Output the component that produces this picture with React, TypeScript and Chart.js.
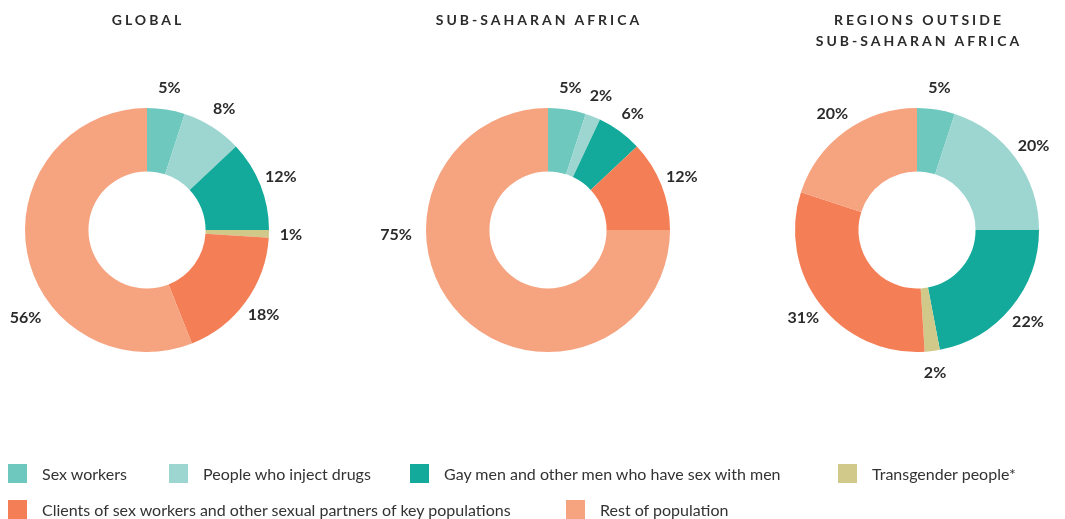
import React, { useEffect, useRef } from "react";
import { Chart, registerables } from "chart.js";

Chart.register(...registerables);

const categories = [
  "Sex workers",
  "People who inject drugs",
  "Gay men and other men who have sex with men",
  "Transgender people*",
  "Clients of sex workers and other sexual partners of key populations",
  "Rest of population",
];
const globalValues = [5, 8, 12, 1, 18, 56];
const ssaValues = [5, 2, 6, 0, 12, 75];
const outsideValues = [5, 20, 22, 2, 31, 20];
const colors = ["#6EC8BE", "#9DD6D0", "#13A99B", "#D0C98A", "#F47E55", "#F6A380"];

const W = 1065;
const H = 519;
const R = 122;
const CY = 230;
const FONT = "Lato, 'Open Sans', sans-serif";

const labelPlugin = {
  id: "sliceLabels",
  afterDatasetsDraw(chart: any, _args: any, opts: any) {
    const ctx = chart.ctx;
    const meta = chart.getDatasetMeta(0);
    const data = chart.data.datasets[0].data;
    const overrides = (opts && opts.angles) || {};
    ctx.save();
    ctx.font = `bold 16px ${FONT}`;
    ctx.fillStyle = "#2b2b2b";
    ctx.textAlign = "center";
    ctx.textBaseline = "middle";
    meta.data.forEach((arc: any, i: number) => {
      const v = data[i];
      if (!v) return;
      const p = arc.getProps(["x", "y", "startAngle", "endAngle", "outerRadius"], true);
      let ang = (p.startAngle + p.endAngle) / 2;
      let r = p.outerRadius + 22;
      if (overrides[i] !== undefined) {
        ang = (overrides[i].deg * Math.PI) / 180 - Math.PI / 2;
        r = p.outerRadius + overrides[i].off;
      }
      ctx.fillText(v + "%", p.x + Math.cos(ang) * r, p.y + Math.sin(ang) * r);
    });
    ctx.restore();
  },
};

function Donut({ values, cx, angles }: { values: number[]; cx: number; angles: any }) {
  const ref = useRef<HTMLCanvasElement>(null);
  useEffect(() => {
    const chart = new Chart(ref.current as HTMLCanvasElement, {
      type: "doughnut",
      data: {
        labels: categories,
        datasets: [
          {
            data: values,
            backgroundColor: colors,
            borderWidth: 0,
          },
        ],
      },
      options: {
        responsive: false,
        animation: false,
        cutout: "48%",
        layout: {
          padding: {
            left: cx - R,
            right: W - (cx + R),
            top: CY - R,
            bottom: H - (CY + R),
          },
        },
        plugins: {
          legend: { display: false },
          tooltip: { enabled: false },
          sliceLabels: { angles },
        } as any,
      },
      plugins: [labelPlugin],
    });
    return () => chart.destroy();
  }, []);
  return (
    <canvas
      ref={ref}
      width={W}
      height={H}
      style={{ position: "absolute", left: 0, top: 0, width: W, height: H }}
    />
  );
}

const titleStyle: React.CSSProperties = {
  position: "absolute",
  fontFamily: FONT,
  fontWeight: 700,
  fontSize: 14,
  letterSpacing: 3,
  color: "#2b2b2b",
  textAlign: "center",
  lineHeight: "21px",
  width: 300,
};

const legendPos = [
  { x: 8, y: 464 },
  { x: 169, y: 464 },
  { x: 410, y: 464 },
  { x: 838, y: 464 },
  { x: 8, y: 500 },
  { x: 566, y: 500 },
];

export default function App() {
  return (
    <div
      style={{
        position: "absolute",
        left: 0,
        top: 0,
        width: W,
        height: H,
        background: "#fff",
        overflow: "hidden",
      }}
    >
      <Donut values={globalValues} cx={147} angles={{ 5: { deg: 234, off: 28 } }} />
      <Donut values={ssaValues} cx={548} angles={{ 5: { deg: 268, off: 30 } }} />
      <Donut values={outsideValues} cx={917} angles={{}} />
      <div style={{ ...titleStyle, left: 148 - 150, top: 9 }}>GLOBAL</div>
      <div style={{ ...titleStyle, left: 539 - 150, top: 9 }}>SUB-SAHARAN AFRICA</div>
      <div style={{ ...titleStyle, left: 919 - 150, top: 9 }}>
        REGIONS OUTSIDE
        <br />
        SUB-SAHARAN AFRICA
      </div>
      {categories.map((c, i) => (
        <div
          key={c}
          style={{
            position: "absolute",
            left: legendPos[i].x,
            top: legendPos[i].y,
            height: 19,
            display: "flex",
            alignItems: "center",
            whiteSpace: "nowrap",
            fontFamily: FONT,
            fontSize: 16,
            color: "#333",
          }}
        >
          <span
            style={{
              display: "inline-block",
              width: 19,
              height: 19,
              background: colors[i],
              marginRight: 15,
              flexShrink: 0,
            }}
          />
          {c}
        </div>
      ))}
    </div>
  );
}
